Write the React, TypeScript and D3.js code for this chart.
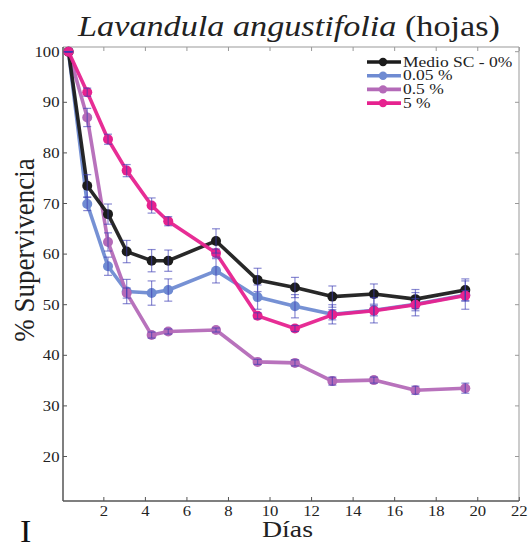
import React from "react";
import * as d3 from "d3";

const days = [0.3, 1.2, 2.2, 3.1, 4.3, 5.1, 7.4, 9.4, 11.2, 13.0, 15.0, 17.0, 19.4];

const seriesNames = ["Medio SC - 0%", "0.05 %", "0.5 %", "5 %"];
const seriesColors = ["#1c1c1c", "#6f8bd2", "#b46ab8", "#e6228f"];

const medioValues = [100, 73.5, 67.9, 60.5, 58.7, 58.7, 62.6, 54.9, 53.4, 51.6, 52.1, 51.1, 52.9];
const medioErrors = [0, 2.2, 2.0, 2.2, 2.2, 2.1, 2.4, 2.3, 2.0, 2.1, 2.0, 1.9, 2.2];

const c005Values = [100, 69.9, 57.6, 52.6, 52.3, 52.9, 56.7, 51.5, 49.7, 48.1, 48.9, 50.1, 51.9];
const c005Errors = [0, 1.3, 1.8, 2.4, 2.4, 2.2, 2.4, 2.4, 2.3, 1.9, 2.5, 2.3, 2.8];

const c05Values = [100, 87.0, 62.4, 52.3, 44.0, 44.7, 45.0, 38.7, 38.5, 34.9, 35.1, 33.1, 33.5];
const c05Errors = [0, 1.8, 1.8, 1.0, 0.6, 0.5, 0.4, 0.5, 0.6, 0.8, 0.6, 0.8, 1.0];

const c5Values = [100, 92.0, 82.7, 76.5, 69.6, 66.5, 60.2, 47.8, 45.3, 48.0, 48.8, 50.0, 51.8];
const c5Errors = [0, 0.8, 1.0, 1.2, 1.5, 0.9, 0.8, 0.6, 0.6, 1.0, 1.0, 1.2, 1.0];

const xTicks = [2, 4, 6, 8, 10, 12, 14, 16, 18, 20, 22];
const yTicks = [20, 30, 40, 50, 60, 70, 80, 90, 100];

const allValues = [medioValues, c005Values, c05Values, c5Values];
const allErrors = [medioErrors, c005Errors, c05Errors, c5Errors];
const drawOrder = [1, 2, 0, 3];

const FONT = "'Liberation Serif', 'DejaVu Serif', serif";

function ST(props: {
  x: number;
  y: number;
  size: number;
  sx?: number;
  anchor?: string;
  children: React.ReactNode;
  fill?: string;
}) {
  const sx = props.sx ?? 1.15;
  return (
    <text
      transform={`translate(${props.x},${props.y}) scale(${sx},1)`}
      textAnchor={props.anchor ?? "start"}
      fontSize={props.size}
      fill={props.fill ?? "#222"}
    >
      {props.children}
    </text>
  );
}

export default function App() {
  const W = 528;
  const H = 548;
  const left = 63;
  const right = 519;
  const top = 47;
  const bottom = 501;

  const x = d3.scaleLinear().domain([0, 22]).range([62.3, 519.3]);
  const y = d3.scaleLinear().domain([20, 100]).range([456.5, 51.7]);

  const line = d3
    .line<number>()
    .x((_, i) => x(days[i]))
    .y((v) => y(v));

  const axisColor = "#555";
  const errColor = "#3c3cb4";

  return (
    <svg
      width={W}
      height={H}
      style={{ position: "absolute", left: 0, top: 0, background: "#fff" }}
      fontFamily={FONT}
    >
      {/* Title */}
      <ST x={289} y={36} size={29} sx={1.18} anchor="middle">
        <tspan fontStyle="italic">Lavandula angustifolia</tspan>
        <tspan> (hojas)</tspan>
      </ST>

      {/* Frame */}
      <line x1={left} x2={right} y1={top} y2={top} stroke="#999" strokeWidth={1} />
      <line x1={right} x2={right} y1={top} y2={bottom} stroke="#999" strokeWidth={1} />
      <line x1={left} x2={left} y1={top} y2={bottom} stroke={axisColor} strokeWidth={1.5} />
      <line x1={left} x2={right} y1={bottom} y2={bottom} stroke={axisColor} strokeWidth={1.5} />

      {/* X ticks */}
      {xTicks.map((t) => (
        <g key={"xt" + t}>
          <line x1={x(t)} x2={x(t)} y1={bottom} y2={bottom - 4} stroke={axisColor} strokeWidth={1} />
          <line x1={x(t)} x2={x(t)} y1={top} y2={top + 4} stroke="#999" strokeWidth={1} />
          <ST x={x(t)} y={516} size={14.5} anchor="middle">
            {t}
          </ST>
        </g>
      ))}

      {/* Y ticks */}
      {yTicks.map((t) => (
        <g key={"yt" + t}>
          <line x1={left} x2={left + 4} y1={y(t)} y2={y(t)} stroke={axisColor} strokeWidth={1} />
          <line x1={right} x2={right - 4} y1={y(t)} y2={y(t)} stroke="#999" strokeWidth={1} />
          <ST x={59.5} y={y(t) + 5} size={14.5} anchor="end">
            {t}
          </ST>
        </g>
      ))}

      {/* Axis labels */}
      <ST x={287.5} y={537} size={24} sx={1.16} anchor="middle">
        Días
      </ST>
      <text
        transform={`translate(34, 250) rotate(-90) scale(1,1.12)`}
        textAnchor="middle"
        fontSize={27}
        fill="#222"
      >
        % Supervivencia
      </text>
      <ST x={20} y={542} size={31} sx={1.1} fill="#111">
        I
      </ST>

      {/* Series lines and markers */}
      {drawOrder.map((s) => (
        <g key={"s" + s}>
          <path
            d={line(allValues[s]) || ""}
            fill="none"
            stroke={seriesColors[s]}
            strokeWidth={3.6}
            strokeLinejoin="round"
            strokeOpacity={0.95}
          />
          {allValues[s].map((v, i) => (
            <circle key={i} cx={x(days[i])} cy={y(v)} r={5} fill={seriesColors[s]} />
          ))}
        </g>
      ))}

      {/* Error bars */}
      {drawOrder.map((s) => (
        <g key={"e" + s} stroke={errColor} strokeOpacity={0.6} strokeWidth={1.2}>
          {allValues[s].map((v, i) => {
            const e = allErrors[s][i];
            const cx = x(days[i]);
            const y1 = y(v + e);
            const y2 = y(v - e);
            return (
              <g key={i}>
                <line x1={cx} x2={cx} y1={y1} y2={y2} />
                <line x1={cx - 4} x2={cx + 4} y1={y1} y2={y1} />
                <line x1={cx - 4} x2={cx + 4} y1={y2} y2={y2} />
              </g>
            );
          })}
        </g>
      ))}

      {/* Legend */}
      {seriesNames.map((n, i) => {
        const ly = 62 + i * 13.7;
        return (
          <g key={"l" + i}>
            <line x1={367} x2={401} y1={ly} y2={ly} stroke={seriesColors[i]} strokeWidth={3.6} />
            <circle cx={383} cy={ly} r={4.2} fill={seriesColors[i]} />
            <ST x={403} y={ly + 4.5} size={15.5} sx={1.13}>
              {n}
            </ST>
          </g>
        );
      })}
    </svg>
  );
}
